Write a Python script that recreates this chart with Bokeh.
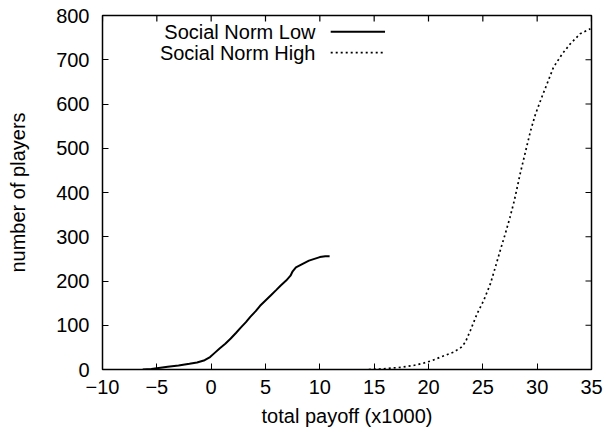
import math
from bokeh.plotting import figure
from bokeh.models import FixedTicker, Range1d, ColumnDataSource
from bokeh.core.properties import value
from bokeh.embed import file_html
from bokeh.resources import INLINE

# Cumulative number of players by total payoff (x1000)
low_payoff = [-6.3, -5.5, -5.0, -4.0, -3.0, -2.0, -1.3, -0.6, -0.1, 0.3, 0.8, 1.3, 1.8,
              2.3, 2.7, 3.2, 3.6, 4.1, 4.5, 5.0, 5.5, 6.0, 6.4, 6.9, 7.3, 7.5, 7.8, 8.2,
              8.6, 9.0, 9.5, 10.0, 10.5, 10.9]
low_players = [0, 1, 3, 6, 9, 13, 16, 21, 28, 37, 48, 58, 70, 83, 94, 107, 119, 132, 144,
               156, 168, 180, 190, 201, 212, 222, 231, 236, 241, 246, 250, 254, 256, 256]

high_payoff = [14.5, 15.5, 16.5, 17.5, 18.6, 19.5, 20.3, 21.1, 22.3, 23.0, 23.4, 23.85,
               24.47, 25.08, 25.7, 26.15, 26.6, 27.07, 27.5, 27.9, 28.45, 29.0, 29.4,
               29.83, 30.45, 31.06, 31.5, 32.3, 33.05, 33.97, 34.74, 34.9]
high_players = [0, 1, 3, 5, 9, 14, 20, 28, 39, 50, 62, 88, 126, 156, 194, 231, 269, 307,
                344, 382, 444, 500, 540, 576, 617, 655, 683, 713, 736, 759, 768, 770]

series_names = ["Social Norm Low", "Social Norm High"]
x_ticks = [-10, -5, 0, 5, 10, 15, 20, 25, 30, 35]
y_ticks = [0, 100, 200, 300, 400, 500, 600, 700, 800]
x_min, x_max = -10, 35
y_min, y_max = 0, 800

FONT = "Liberation Sans"
FONT_SIZE = "20px"

p = figure(width=608, height=437, output_backend="svg", toolbar_location=None,
           x_range=Range1d(x_min, x_max), y_range=Range1d(y_min, y_max),
           min_border_left=102, min_border_right=17, min_border_top=15,
           min_border_bottom=68)
p.background_fill_color = "white"
p.border_fill_color = "white"
p.grid.visible = False
p.outline_line_color = "black"
p.outline_line_width = 1.5

p.xaxis.ticker = FixedTicker(ticks=x_ticks)
p.yaxis.ticker = FixedTicker(ticks=y_ticks)
for ax in (p.xaxis[0], p.yaxis[0]):
    ax.axis_line_color = None
    ax.major_tick_in = 6
    ax.major_tick_out = 0
    ax.major_tick_line_color = "black"
    ax.minor_tick_line_color = None
    ax.major_label_text_font = FONT
    ax.major_label_text_font_size = FONT_SIZE
    ax.major_label_text_color = "black"
    ax.axis_label_text_font = FONT
    ax.axis_label_text_font_size = FONT_SIZE
    ax.axis_label_text_font_style = "normal"
    ax.axis_label_text_color = "black"
p.xaxis.major_label_standoff = 10
p.yaxis.major_label_standoff = 13
p.xaxis.axis_label = "total payoff (x1000)"
p.yaxis.axis_label = "number of players"
p.xaxis.axis_label_standoff = 8
p.yaxis.axis_label_standoff = 24

# mirrored inward tick marks along the top and right edges (clipped to the frame)
p.scatter(x=x_ticks, y=[y_max] * len(x_ticks), marker="dash", size=12,
          angle=math.pi / 2, line_color="black", line_width=1.2)
p.scatter(x=[x_max] * len(y_ticks), y=y_ticks, marker="dash", size=12,
          line_color="black", line_width=1.2)

low_src = ColumnDataSource(dict(x=low_payoff, y=low_players))
high_src = ColumnDataSource(dict(x=high_payoff, y=high_players))
p.line("x", "y", source=low_src, line_color="black", line_width=2)
p.line("x", "y", source=high_src, line_color="black", line_width=1.7, line_dash="2 3")

# key in the upper-left corner: right-aligned text followed by a line sample
key_text_x = 9.6
key_line_x0, key_line_x1 = 11.0, 16.0
key_rows_y = [763, 716]
p.text(x=[key_text_x, key_text_x], y=key_rows_y, text=series_names,
       text_align="right", text_baseline="middle", text_color="black",
       text_font=value(FONT), text_font_size=FONT_SIZE)
p.segment(x0=[key_line_x0], y0=[key_rows_y[0]], x1=[key_line_x1], y1=[key_rows_y[0]],
          line_color="black", line_width=2)
p.segment(x0=[key_line_x0], y0=[key_rows_y[1]], x1=[key_line_x1], y1=[key_rows_y[1]],
          line_color="black", line_width=1.7, line_dash="2 3")

open("out.html", "w").write(file_html(p, INLINE))
